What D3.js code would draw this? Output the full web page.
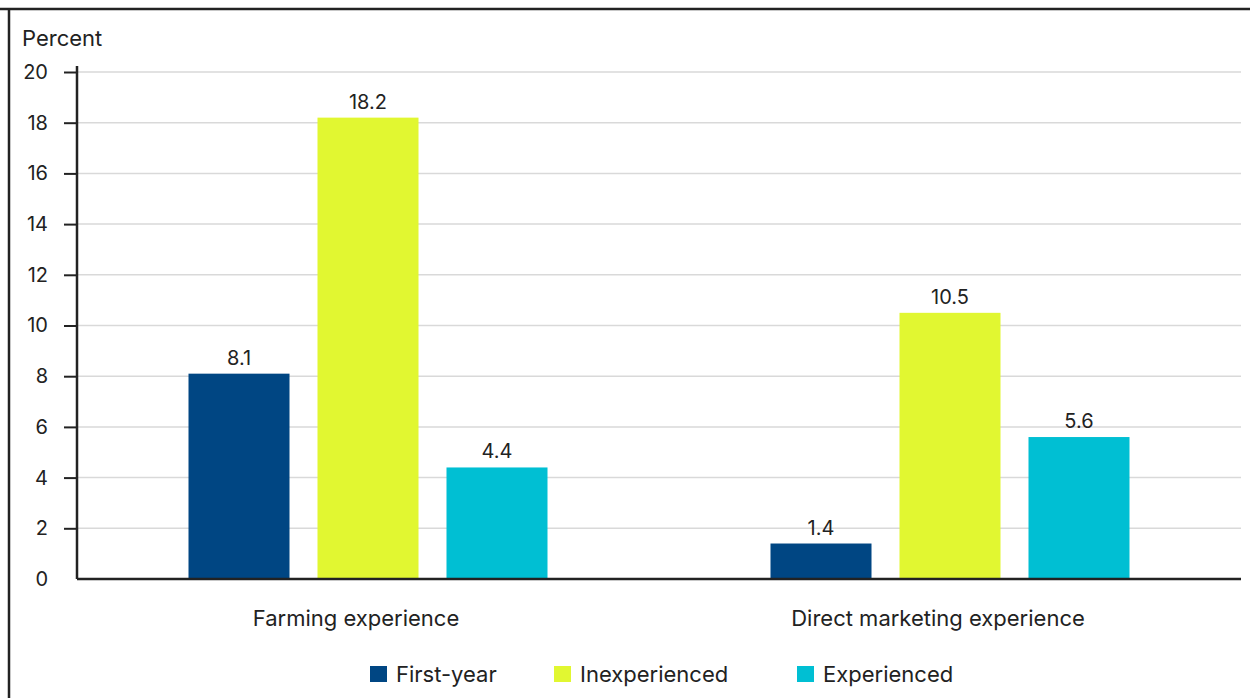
<!DOCTYPE html>
<html>
<head>
<meta charset="utf-8">
<script src="https://cdn.jsdelivr.net/npm/d3@7"></script>
<style>
  html, body { margin: 0; padding: 0; background: #fff; }
  svg { display: block; }
  text { font-family: Inter, "Open Sans", sans-serif; fill: #222; }
</style>
</head>
<body>
<svg id="chart" width="1250" height="698"></svg>
<script>
// Share of farms by experience group (percent)
const categories = ["Farming experience", "Direct marketing experience"];
const seriesNames = ["First-year", "Inexperienced", "Experienced"];
const firstYear = [8.1, 1.4];
const inexperienced = [18.2, 10.5];
const experienced = [4.4, 5.6];
const yTicks = [0, 2, 4, 6, 8, 10, 12, 14, 16, 18, 20];
const colors = ["#004683", "#e1f731", "#00bfd3"];

const values = [firstYear, inexperienced, experienced];
const rows = categories.map((c, i) => ({
  category: c,
  bars: seriesNames.map((s, j) => ({ series: s, value: values[j][i] }))
}));

const svg = d3.select("#chart");
const margin = { left: 77, right: 9, top: 72, bottom: 119 };
const W = 1250, H = 698;
const plotW = W - margin.left - margin.right;
const plotH = H - margin.top - margin.bottom;
const clusterW = 359;

// Frame lines along the top and left edge
svg.append("line").attr("x1", 0).attr("x2", W).attr("y1", 9).attr("y2", 9)
  .attr("stroke", "#222").attr("stroke-width", 2.5);
svg.append("line").attr("x1", 9).attr("x2", 9).attr("y1", 8).attr("y2", H)
  .attr("stroke", "#222").attr("stroke-width", 2.5);

const g = svg.append("g").attr("transform", `translate(${margin.left},${margin.top})`);

const y = d3.scaleLinear().domain([0, 20]).range([plotH, 0]);
const x0 = d3.scaleBand().domain(categories).range([0, plotW]).padding(0);
const x1 = d3.scaleBand().domain(seriesNames).range([0, clusterW]).paddingInner(0.217);
const groupOffset = (x0.bandwidth() - clusterW) / 2;

// Gridlines
g.append("g").selectAll("line").data(yTicks.filter(d => d > 0)).join("line")
  .attr("x1", 0).attr("x2", plotW)
  .attr("y1", d => y(d)).attr("y2", d => y(d))
  .attr("stroke", "#d9d9d9").attr("stroke-width", 1.5);

// Y axis
const yAxis = g.append("g")
  .call(d3.axisLeft(y).tickValues(yTicks).tickSize(13).tickPadding(16).tickFormat(d3.format("d")));
yAxis.select(".domain").remove();
yAxis.selectAll(".tick line").attr("stroke", "#222").attr("stroke-width", 2)
  .filter(d => d === 0).remove();
yAxis.selectAll(".tick text").attr("font-size", 20).attr("fill", "#222")
  .style("font-family", "Inter, 'Open Sans', sans-serif");

g.append("text").attr("x", 22 - margin.left).attr("y", 46 - margin.top)
  .attr("font-size", 22).text("Percent");

// Bars
const groups = g.selectAll(".grp").data(rows).join("g")
  .attr("transform", d => `translate(${x0(d.category) + groupOffset},0)`);

groups.selectAll("rect").data(d => d.bars).join("rect")
  .attr("x", d => x1(d.series))
  .attr("width", x1.bandwidth())
  .attr("y", d => y(d.value))
  .attr("height", d => plotH - y(d.value))
  .attr("fill", (d, i) => colors[i]);

groups.selectAll(".val").data(d => d.bars).join("text")
  .attr("x", d => x1(d.series) + x1.bandwidth() / 2)
  .attr("y", d => y(d.value) - 9)
  .attr("text-anchor", "middle").attr("font-size", 20)
  .text(d => d.value.toFixed(1));

// Axis lines
g.append("line").attr("x1", 0).attr("x2", 0).attr("y1", -6).attr("y2", plotH)
  .attr("stroke", "#222").attr("stroke-width", 2.5);
g.append("line").attr("x1", 0).attr("x2", plotW).attr("y1", plotH).attr("y2", plotH)
  .attr("stroke", "#222").attr("stroke-width", 2.5);

// Category labels
g.selectAll(".cat").data(categories).join("text")
  .attr("x", d => x0(d) + x0.bandwidth() / 2 - 12)
  .attr("y", plotH + 47)
  .attr("text-anchor", "middle").attr("font-size", 22)
  .text(d => d);

// Legend
const legendX = [370, 554, 797];
const legend = svg.append("g").selectAll("g").data(seriesNames).join("g")
  .attr("transform", (d, i) => `translate(${legendX[i]},666)`);
legend.append("rect").attr("width", 17).attr("height", 16).attr("fill", (d, i) => colors[i]);
legend.append("text").attr("x", 26).attr("y", 16).attr("font-size", 22).text(d => d);
</script>
</body>
</html>
